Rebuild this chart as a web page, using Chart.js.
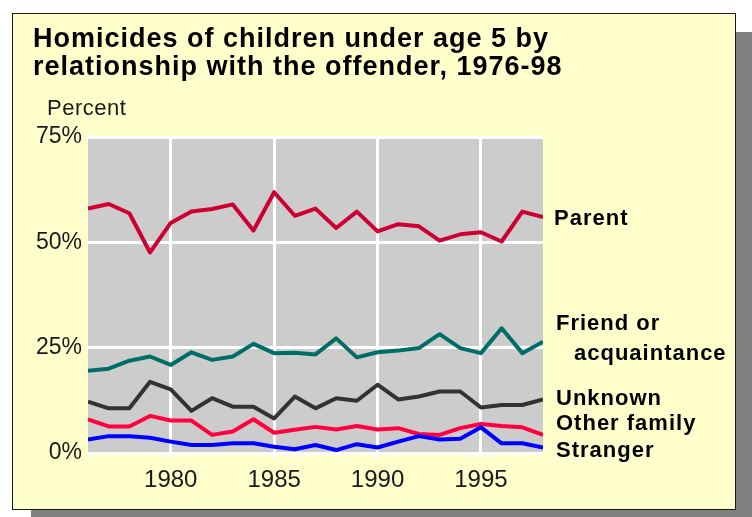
<!DOCTYPE html>
<html>
<head>
<meta charset="utf-8">
<script src="https://cdn.jsdelivr.net/npm/chart.js@4/dist/chart.umd.min.js"></script>
<style>
  html, body { margin: 0; padding: 0; background: #ffffff; overflow: hidden; }
  #wrap { position: relative; width: 752px; height: 517px; }
  #box { position: absolute; left: 12px; top: 13px; width: 722px; height: 495px;
         background: #ffffcc; border: 1px solid #1a1a1a; box-shadow: 19px 19px 0 #808080; }
  canvas { position: absolute; left: 0; top: 0; }
</style>
</head>
<body>
<div id="wrap">
  <div id="box"></div>
  <canvas id="c" width="752" height="517"></canvas>
</div>
<script>
const years = [1976,1977,1978,1979,1980,1981,1982,1983,1984,1985,1986,1987,1988,1989,1990,1991,1992,1993,1994,1995,1996,1997,1998];
const parent   = [58.0,59.1,56.9,47.6,54.6,57.3,57.9,59.0,52.8,61.9,56.3,58.0,53.4,57.3,52.6,54.3,53.8,50.4,51.9,52.4,50.2,57.3,56.0];
const friend   = [19.5,20.0,21.9,22.9,20.9,23.9,22.1,22.9,25.9,23.7,23.8,23.4,27.2,22.7,23.9,24.3,24.9,28.2,24.9,23.7,29.6,23.7,26.4];
const unknown  = [12.2,10.6,10.6,16.9,15.1,10.0,13.0,11.0,11.0,8.2,13.4,10.6,13.0,12.4,16.2,12.7,13.4,14.6,14.6,10.8,11.4,11.4,12.7];
const otherFam = [8.0,6.3,6.3,8.8,7.7,7.7,4.3,5.1,8.0,4.8,5.5,6.2,5.6,6.4,5.6,5.9,4.5,4.3,5.9,6.9,6.4,6.1,4.3];
const stranger = [3.2,4.0,4.0,3.6,2.7,1.9,1.9,2.3,2.3,1.5,0.9,1.9,0.7,2.1,1.3,2.7,4.0,3.2,3.4,6.1,2.3,2.3,1.3];
const xTicks = [1980,1985,1990,1995];
const yTicks = [0,25,50,75];
const titleLines = ["Homicides of children under age 5 by", "relationship with the offender, 1976-98"];
const yTitle = "Percent";
const seriesLabels = ["Parent", "Friend or", "acquaintance", "Unknown", "Other family", "Stranger"];

function pts(vals) { return years.map((y, i) => ({ x: y, y: vals[i] })); }

const lineStyle = { borderWidth: 4, pointRadius: 0, tension: 0, fill: false, borderJoinStyle: 'round', borderCapStyle: 'butt' };

const bgPlugin = {
  id: 'bg',
  beforeDraw(chart) {
    const a = chart.chartArea, ctx = chart.ctx;
    ctx.save();
    ctx.fillStyle = '#cccccc';
    ctx.fillRect(a.left, a.top, a.right - a.left, a.bottom - a.top);
    ctx.restore();
  }
};

const textPlugin = {
  id: 'texts',
  afterDraw(chart) {
    const ctx = chart.ctx;
    ctx.save();
    ctx.fillStyle = '#000000';
    ctx.textBaseline = 'alphabetic';
    ctx.textAlign = 'left';
    ctx.font = 'bold 27px "Liberation Sans", Arial, sans-serif';
    ctx.letterSpacing = '1px';
    ctx.fillText(titleLines[0], 33, 47);
    ctx.fillText(titleLines[1], 33, 75);
    ctx.font = '22px "Liberation Sans", Arial, sans-serif';
    ctx.letterSpacing = '0.5px';
    ctx.fillStyle = '#1a1a1a';
    ctx.fillText(yTitle, 47, 115);
    ctx.fillStyle = '#000000';
    ctx.font = 'bold 22px "Liberation Sans", Arial, sans-serif';
    ctx.letterSpacing = '1px';
    const pos = [[554,225],[556,330],[574,360],[556,405],[556,430],[556,456.5]];
    seriesLabels.forEach((t, i) => ctx.fillText(t, pos[i][0], pos[i][1]));
    ctx.restore();
  }
};

new Chart(document.getElementById('c'), {
  type: 'line',
  data: {
    datasets: [
      Object.assign({ label: 'Stranger', data: pts(stranger), borderColor: '#0000ff' }, lineStyle),
      Object.assign({ label: 'Other family', data: pts(otherFam), borderColor: '#ff0040' }, lineStyle),
      Object.assign({ label: 'Unknown', data: pts(unknown), borderColor: '#333333' }, lineStyle),
      Object.assign({ label: 'Friend or acquaintance', data: pts(friend), borderColor: '#006e66' }, lineStyle),
      Object.assign({ label: 'Parent', data: pts(parent), borderColor: '#cc0033' }, lineStyle)
    ]
  },
  options: {
    responsive: false,
    animation: false,
    events: [],
    layout: { padding: { left: 0, right: 209, top: 137, bottom: 0 } },
    plugins: { legend: { display: false }, title: { display: false }, tooltip: { enabled: false } },
    scales: {
      x: {
        type: 'linear', min: 1976, max: 1998,
        afterBuildTicks(s) { s.ticks = xTicks.map(v => ({ value: v })); },
        afterFit(s) { s.height = 64; },
        grid: { color: '#ffffff', lineWidth: 3, drawTicks: true, tickLength: 7, tickColor: '#ffffff' },
        border: { display: false },
        ticks: { callback: v => String(v), color: '#1a1a1a', padding: 6, maxRotation: 0,
                 font: { family: '"Liberation Sans", Arial, sans-serif', size: 24 } }
      },
      y: {
        min: 0, max: 75,
        afterBuildTicks(s) { s.ticks = yTicks.map(v => ({ value: v })); },
        afterFit(s) { s.width = 88; },
        grid: { color: '#ffffff', lineWidth: 3, drawTicks: true, tickLength: 2, tickColor: '#ffffff' },
        border: { display: false },
        ticks: { callback: v => v + '%', color: '#1a1a1a', padding: 4,
                 font: { family: '"Liberation Sans", Arial, sans-serif', size: 23 } }
      }
    }
  },
  plugins: [bgPlugin, textPlugin]
});
</script>
</body>
</html>
